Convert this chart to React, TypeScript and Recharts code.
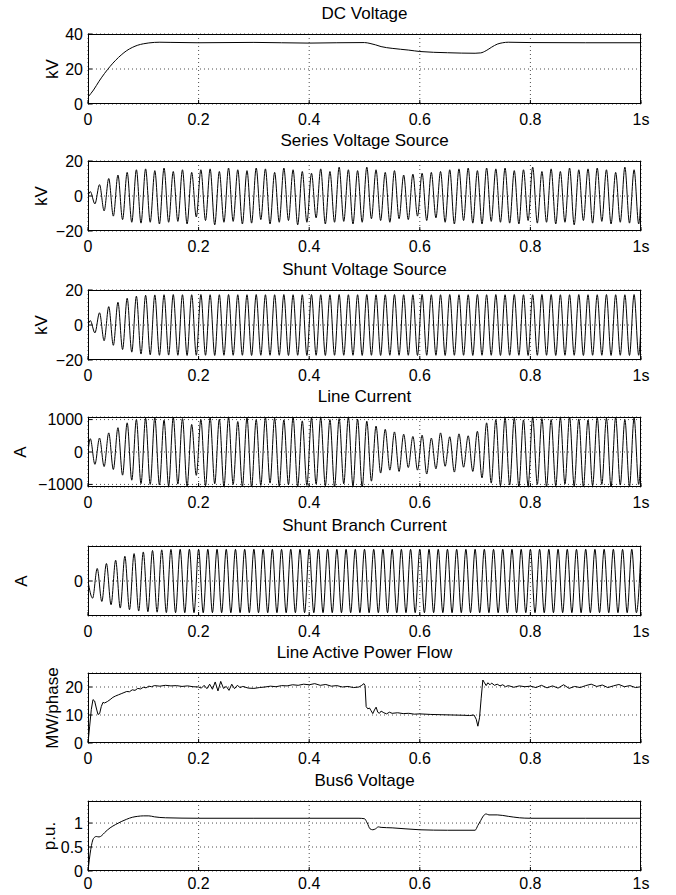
import React from 'react';
import { LineChart, Line, XAxis, YAxis, CartesianGrid } from 'recharts';

const FONT = '"Liberation Sans", Arial, Helvetica, sans-serif';

const xTicks = [0, 0.2, 0.4, 0.6, 0.8, 1];

// DC Voltage (kV)
const dcT = [0, 0.01, 0.02, 0.03, 0.04, 0.05, 0.06, 0.07, 0.08, 0.09, 0.1, 0.11, 0.12, 0.13, 0.15, 0.2, 0.3, 0.4, 0.45, 0.5, 0.51, 0.52, 0.53, 0.55, 0.58, 0.6, 0.65, 0.7, 0.71, 0.72, 0.73, 0.74, 0.75, 0.76, 0.8, 0.9, 1];
const dcV = [4, 8, 13, 17.5, 21.5, 25, 28, 30.5, 32.3, 33.6, 34.4, 34.9, 35.2, 35.3, 35.2, 35, 35.2, 34.8, 35, 35.1, 34.6, 33.8, 32.8, 31.8, 30.8, 30, 29.3, 29, 29.2, 30.5, 32.5, 34.2, 35, 35.3, 35.1, 35, 35];

// peaks / troughs, one every half cycle of 60 Hz
const seriesV = [
  2.5, -4.5, 6.5, -8.5, 10, -11.5, 12, -13.5, 13.5, -15,
  15, -15.5, 15.5, -15, 14.5, -16, 16, -15, 14, -14.5,
  15, -16, 13.5, -12, 15, -14, 15.5, -16.5, 14, -15,
  16, -14.5, 15, -16, 14.5, -15.5, 16, -13.5, 15.5, -16,
  13.5, -15, 16, -14, 15, -16.5, 14, -15, 13, -12.5,
  15.5, -16, 14, -15, 16.5, -14.5, 15, -16, 14.5, -15,
  16.5, -13, 15, -14, 13.5, -15, 14.5, -13, 12, -13.5,
  12.5, -11.5, 13, -14, 13.5, -12.5, 14, -15, 15, -16,
  15.5, -14, 16, -15.5, 14.5, -16, 16, -14.5, 15.5, -15,
  16, -15.5, 14.5, -16, 15, -14, 16.5, -15.5, 14, -15,
  15.5, -16, 14, -15, 16, -16.5, 15, -14, 15.5, -15.5,
  16, -14.5, 15, -16, 13.5, -15, 16.5, -15.5, 15, -16,
];

const shuntV = [
  2.5, -4.5, 7, -9, 10.5, -11.6, 13, -14, 15.3, -15.5,
  16.5, -16.6, 17, -17, 17.2, -17.3, 17.3, -17.2, 17.4, -17.3,
  17.3, -17.4, 17.3, -17.3, 17.4, -17.3, 17.3, -17.4, 17.3, -17.3,
  17.4, -17.3, 17.3, -17.3, 17.3, -17.4, 17.4, -17.3, 17.3, -17.3,
  17.3, -17.3, 17.4, -17.4, 17.3, -17.3, 17.3, -17.4, 17.4, -17.3,
  17.3, -17.4, 17.3, -17.3, 17.4, -17.3, 17.3, -17.3, 17.3, -17.4,
  17.4, -17.3, 17.3, -17.4, 17.3, -17.3, 17.4, -17.3, 17.3, -17.3,
  17.3, -17.4, 17.4, -17.3, 17.3, -17.3, 17.3, -17.4, 17.4, -17.3,
  17.3, -17.3, 17.3, -17.4, 17.4, -17.3, 17.3, -17.3, 17.4, -17.4,
  17.3, -17.3, 17.4, -17.3, 17.3, -17.4, 17.3, -17.3, 17.4, -17.3,
  17.4, -17.4, 17.3, -17.3, 17.3, -17.3, 17.4, -17.4, 17.3, -17.3,
  17.3, -17.3, 17.4, -17.4, 17.3, -17.3, 17.3, -17.4, 17.4, -17.3,
];

const lineI = [
  410, -380, 430, -450, 590, -540, 750, -715, 900, -870,
  1000, -975, 1040, -1000, 1060, -1020, 980, -1050, 1070, -990,
  1030, -1060, 850, -720, 1000, -1040, 1060, -980, 1010, -1070,
  1070, -1000, 940, -1060, 1050, -1080, 1000, -1030, 1060, -960,
  1040, -1050, 990, -1010, 1070, -1060, 960, -1030, 1050, -990,
  1060, -1040, 1000, -1070, 1030, -980, 1070, -1050, 1010, -1080,
  950, -900, 800, -650, 700, -560, 620, -600, 550, -480,
  480, -560, 520, -680, 430, -520, 590, -440, 470, -620,
  560, -470, 500, -600, 640, -800, 900, -960, 1000, -1040,
  1060, -1020, 1040, -1070, 990, -1050, 1070, -1000, 1030, -1060,
  1000, -1040, 1060, -990, 1080, -1050, 1020, -1070, 990, -1040,
  1060, -1000, 1040, -1080, 1070, -1020, 1000, -1060, 1050, -1000,
];

const shuntI = [
  -260, 190, -310, 265, -360, 315, -410, 375, -435, 415,
  -455, 440, -465, 462, -472, 472, -478, 478, -480, 480,
  -480, 481, -480, 480, -481, 480, -480, 481, -480, 480,
  -481, 480, -480, 480, -480, 481, -481, 480, -480, 480,
  -480, 480, -481, 481, -480, 480, -480, 481, -481, 480,
  -480, 481, -480, 480, -481, 480, -480, 480, -480, 481,
  -481, 480, -480, 481, -480, 480, -481, 480, -480, 480,
  -480, 481, -481, 480, -480, 480, -480, 481, -481, 480,
  -480, 480, -480, 481, -481, 480, -480, 480, -481, 481,
  -480, 480, -481, 480, -480, 481, -480, 480, -481, 480,
  -481, 481, -480, 480, -480, 480, -481, 481, -480, 480,
  -480, 480, -481, 481, -480, 480, -480, 481, -481, 480,
];

// Line Active Power Flow (MW/phase)
const powerT = [0, 0.003, 0.006, 0.009, 0.012, 0.015, 0.018, 0.021, 0.024, 0.027, 0.03, 0.035, 0.04, 0.045, 0.05, 0.055, 0.06, 0.065, 0.07, 0.075, 0.08, 0.085, 0.09, 0.095, 0.1, 0.105, 0.11, 0.115, 0.12, 0.13, 0.14, 0.15, 0.16, 0.17, 0.18, 0.19, 0.2, 0.205, 0.21, 0.215, 0.22, 0.225, 0.23, 0.235, 0.24, 0.245, 0.25, 0.255, 0.26, 0.265, 0.27, 0.275, 0.28, 0.29, 0.3, 0.31, 0.32, 0.33, 0.34, 0.35, 0.36, 0.37, 0.38, 0.39, 0.4, 0.41, 0.42, 0.43, 0.44, 0.45, 0.46, 0.47, 0.48, 0.49, 0.495, 0.499, 0.501, 0.503, 0.506, 0.509, 0.512, 0.515, 0.518, 0.521, 0.524, 0.527, 0.53, 0.535, 0.54, 0.545, 0.55, 0.56, 0.57, 0.58, 0.59, 0.6, 0.62, 0.64, 0.66, 0.68, 0.69, 0.698, 0.702, 0.705, 0.708, 0.711, 0.714, 0.717, 0.72, 0.723, 0.727, 0.73, 0.735, 0.74, 0.745, 0.75, 0.755, 0.76, 0.77, 0.78, 0.79, 0.8, 0.81, 0.82, 0.83, 0.84, 0.85, 0.86, 0.87, 0.88, 0.89, 0.9, 0.91, 0.92, 0.93, 0.94, 0.95, 0.96, 0.97, 0.98, 0.99, 1];
const powerV = [0, 6, 12, 15.5, 15, 12.5, 10.2, 10.5, 13, 14.5, 14.3, 14.8, 15.5, 16.3, 16.8, 17.2, 17.6, 18, 18.4, 18.3, 19, 18.8, 19.5, 19.3, 19.9, 19.7, 20.3, 20.1, 20.5, 20.3, 20.6, 20.4, 20.5, 20.2, 20.4, 20.1, 20, 19.6, 20.6, 19.4, 21, 19.2, 21.8, 18.6, 22, 19.5, 20.2, 18.8, 21, 19.4, 20.6, 19.8, 20.2, 19.6, 19.5, 19.8, 20, 20.3, 20.1, 20.5, 20.4, 20.8, 20.6, 21, 20.8, 21.2, 20.6, 20.9, 20.3, 20.5, 20, 20.2, 19.8, 20, 20.6, 21.2, 20.5, 13, 12.2, 12.5, 11.5, 10.5, 11.8, 12.8, 11, 10.6, 11.4, 10.8, 10.4, 11, 10.6, 10.8, 10.5, 10.6, 10.3, 10.4, 10.2, 10.1, 10, 9.9, 9.8, 10, 8.5, 6, 9, 16, 22.5, 21.5, 20.5, 21.5, 20.8, 21.4, 20.6, 21, 20.4, 20.8, 20.1, 20.5, 19.9, 20.4, 20.1, 20.3, 19.8, 20.6, 19.7, 20.4, 19.6, 20.8, 19.5, 20.2, 19.8, 20.5, 21, 20.2, 20.7, 19.8, 20.4, 20.9, 20.1, 20.5, 19.8, 20.1];

// Bus6 Voltage (p.u.)
const busT = [0, 0.005, 0.01, 0.015, 0.02, 0.025, 0.03, 0.04, 0.05, 0.06, 0.07, 0.08, 0.09, 0.1, 0.11, 0.12, 0.14, 0.2, 0.3, 0.4, 0.49, 0.5, 0.505, 0.51, 0.515, 0.52, 0.525, 0.53, 0.55, 0.6, 0.65, 0.7, 0.705, 0.71, 0.715, 0.72, 0.725, 0.74, 0.76, 0.78, 0.8, 0.9, 1];
const busV = [0, 0.45, 0.68, 0.72, 0.71, 0.74, 0.8, 0.9, 0.97, 1.03, 1.08, 1.12, 1.14, 1.15, 1.15, 1.13, 1.11, 1.1, 1.1, 1.1, 1.1, 1.09, 1.0, 0.88, 0.86, 0.88, 0.92, 0.91, 0.9, 0.86, 0.85, 0.85, 0.95, 1.05, 1.15, 1.19, 1.17, 1.17, 1.14, 1.11, 1.1, 1.1, 1.1];

const pairs = (ts: number[], vs: number[]) => ts.map((t, i) => ({ t, v: vs[i] }));
// extremes of a 60 Hz wave sit every 1/120 s
const wave = (vs: number[], phase: number, end?: number) => {
  const pts = [{ t: 0, v: 0 }, ...vs.map((v, k) => ({ t: (k + phase) / 120, v }))];
  if (end !== undefined) pts.push({ t: 1, v: end });
  return pts;
};

const fmtX = (v: number) => (v === 1 ? '1s' : String(v));
const fmtY = (v: number) => String(v).replace('-', '\u2212');

type PanelProps = {
  title: string;
  top: number;
  data: { t: number; v: number }[];
  domain: [number, number];
  ticks: number[];
  ylabel: string;
  ylabelX: number;
  curve: 'monotone' | 'linear';
  xGap?: number;
};

const PLOT_H = 70;
const PAD_TOP = 12;

function Panel({ title, top, data, domain, ticks, ylabel, ylabelX, curve, xGap = 14 }: PanelProps) {
  return (
    <>
      <div style={{ position: 'absolute', left: 88, width: 553, top: top - 30, height: 20, lineHeight: '20px', textAlign: 'center', fontSize: 17, fontFamily: FONT, color: '#000' }}>
        {title}
      </div>
      <div style={{ position: 'absolute', left: ylabelX, top: top + PLOT_H / 2, transform: 'translate(-50%, -50%) rotate(-90deg)', fontSize: 17, lineHeight: 1, fontFamily: FONT, whiteSpace: 'nowrap', color: '#000' }}>
        {ylabel}
      </div>
      <div style={{ position: 'absolute', left: 0, top: top - PAD_TOP }}>
        <LineChart width={676} height={PLOT_H + PAD_TOP + 30} data={data} margin={{ top: PAD_TOP, right: 35, bottom: 0, left: 0 }}>
          <CartesianGrid stroke="#000" strokeDasharray="1 3" strokeOpacity={0.7} />
          <XAxis
            dataKey="t"
            type="number"
            domain={[0, 1]}
            ticks={xTicks}
            interval={0}
            allowDataOverflow
            height={30}
            axisLine={false}
            tickSize={-4}
            tickMargin={xGap}
            tickLine={{ stroke: '#000' }}
            tick={{ fill: '#000', fontSize: 16, fontFamily: FONT }}
            tickFormatter={fmtX}
          />
          <YAxis
            type="number"
            domain={domain}
            ticks={ticks}
            interval={0}
            allowDataOverflow
            width={88}
            axisLine={false}
            tickSize={-4}
            tickMargin={9}
            tickLine={{ stroke: '#000' }}
            tick={{ fill: '#000', fontSize: 16, fontFamily: FONT }}
            tickFormatter={fmtY}
          />
          <Line type={curve} dataKey="v" stroke="#000" strokeWidth={1} dot={false} isAnimationActive={false} />
        </LineChart>
      </div>
      <div style={{ position: 'absolute', left: 88, top, width: 553, height: PLOT_H, border: '1px solid #000', boxSizing: 'border-box', pointerEvents: 'none' }} />
    </>
  );
}

export default function App() {
  return (
    <div style={{ position: 'absolute', left: 0, top: 0, width: 676, height: 895, background: '#fff', overflow: 'hidden' }}>
      <Panel title="DC Voltage" top={34} data={pairs(dcT, dcV)} domain={[0, 40]} ticks={[0, 20, 40]} ylabel="kV" ylabelX={52} curve="monotone" />
      <Panel title="Series Voltage Source" top={161} data={wave(seriesV, 0.5, 0)} domain={[-20, 20]} ticks={[-20, 0, 20]} ylabel="kV" ylabelX={41} curve="monotone" />
      <Panel title="Shunt Voltage Source" top={290} data={wave(shuntV, 0.5, 0)} domain={[-20, 20]} ticks={[-20, 0, 20]} ylabel="kV" ylabelX={41} curve="monotone" />
      <Panel title="Line Current" top={417} data={wave(lineI, 0.5, 0)} domain={[-1080, 1080]} ticks={[-1000, 0, 1000]} ylabel="A" ylabelX={20} curve="monotone" />
      <Panel title="Shunt Branch Current" top={546} data={wave(shuntI, 1)} domain={[-530, 530]} ticks={[0]} ylabel="A" ylabelX={21} curve="monotone" />
      <Panel title="Line Active Power Flow" top={673} data={pairs(powerT, powerV)} domain={[0, 25]} ticks={[0, 10, 20]} ylabel="MW/phase" ylabelX={52} curve="linear" />
      <Panel title="Bus6 Voltage" top={801} data={pairs(busT, busV)} domain={[0, 1.46]} ticks={[0, 0.5, 1]} ylabel="p.u." ylabelX={49} curve="monotone" xGap={11} />
    </div>
  );
}
